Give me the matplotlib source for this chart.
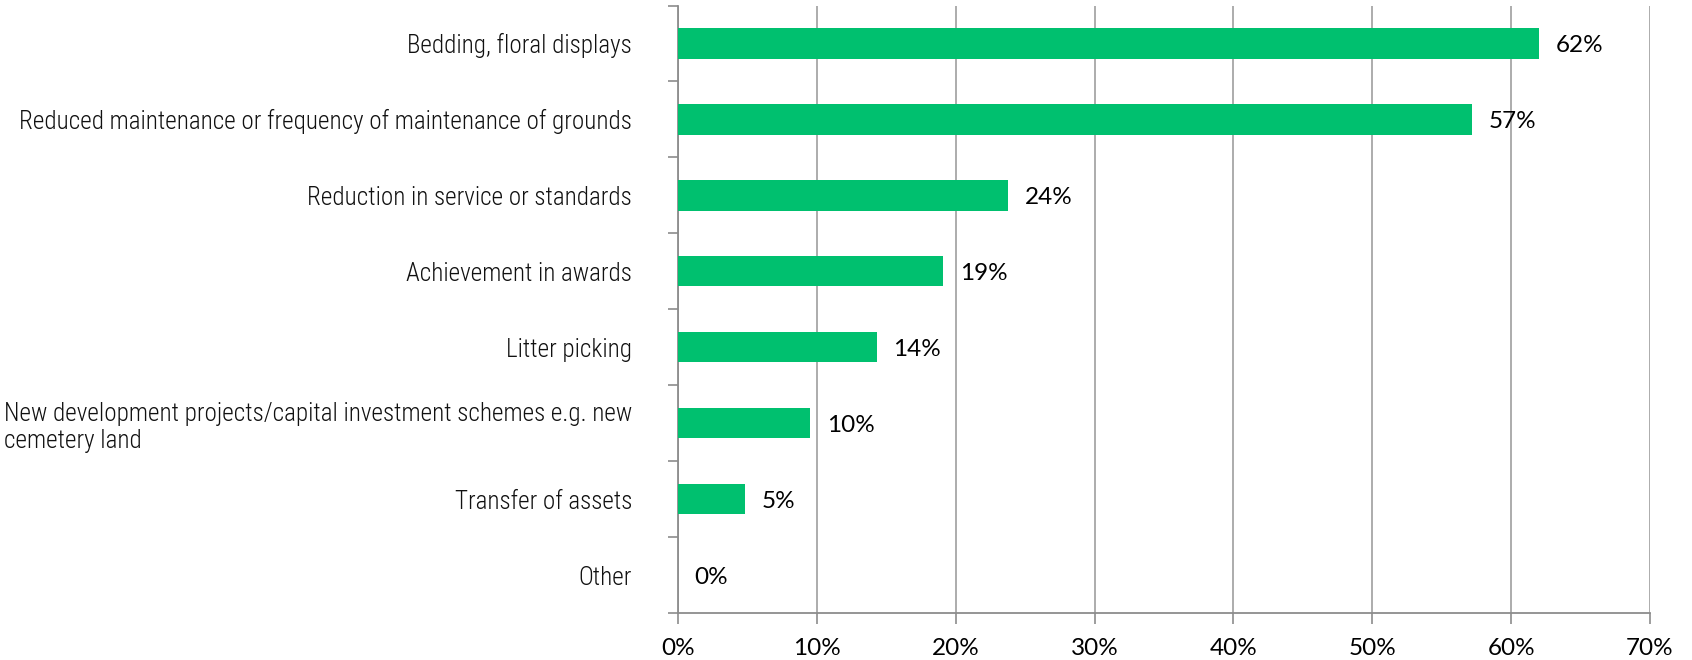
import matplotlib
matplotlib.use("Agg")
import matplotlib.pyplot as plt
from matplotlib import font_manager
from matplotlib.ticker import FixedLocator, PercentFormatter

categories = [
    "Bedding, floral displays",
    "Reduced maintenance or frequency of maintenance of grounds",
    "Reduction in service or standards",
    "Achievement in awards",
    "Litter picking",
    "New development projects/capital investment schemes e.g. new\ncemetery land",
    "Transfer of assets",
    "Other",
]
values = [62.0, 57.2, 23.8, 19.1, 14.3, 9.5, 4.8, 0.0]
x_ticks = [0, 10, 20, 30, 40, 50, 60, 70]

installed = {f.name for f in font_manager.fontManager.ttflist}
label_font = next(f for f in ["Roboto Condensed", "Open Sans Condensed",
                              "Liberation Sans Narrow", "Roboto", "Open Sans"]
                  if f in installed)
num_font = "Lato" if "Lato" in installed else "DejaVu Sans"

bar_color = "#00c06f"
axis_gray = "#8c8c8c"
grid_gray = "#a6a6a6"

fig = plt.figure(figsize=(16.92, 6.6), dpi=100)
ax = fig.add_axes([678 / 1692, 1 - 613 / 660, 972 / 1692, 607.5 / 660])

# size the category font so the longest one-line label spans ~612 px
renderer = fig.canvas.get_renderer()
probe = fig.text(0, 0, categories[1], family=label_font, weight="light",
                 fontsize=16)
label_size = 16 * 612 / probe.get_window_extent(renderer).width
probe.remove()

ypos = list(range(len(categories)))
ax.barh(ypos, values, height=0.4, color=bar_color, zorder=3)

for y, v in zip(ypos, values):
    ax.text(v + 1.2, y + 0.03, f"{v:.0f}%", va="center", ha="left",
            fontsize=17.5, family=num_font, color="black", zorder=4)

ax.set_xlim(0, 70)
ax.set_ylim(len(categories) - 0.5, -0.5)
ax.xaxis.set_major_locator(FixedLocator(x_ticks))
ax.xaxis.set_major_formatter(PercentFormatter(decimals=0))
ax.grid(axis="x", color=grid_gray, linewidth=1.3, zorder=0)
ax.set_axisbelow(True)

# category labels as major ticks without marks, boundary marks as minor ticks
ax.set_yticks(ypos)
ax.set_yticklabels(categories, family=label_font, weight="light",
                   fontsize=label_size, color="#111111")
for lbl in ax.get_yticklabels():
    lbl.set_multialignment("left")
ax.tick_params(axis="y", which="major", length=0, pad=33)
ax.set_yticks([y - 0.5 for y in range(len(categories) + 1)], minor=True)
ax.tick_params(axis="y", which="minor", length=7, width=1.2, color=axis_gray)

ax.tick_params(axis="x", which="major", length=8, width=1.2, color=axis_gray,
               labelsize=17.5, pad=10)
for lbl in ax.get_xticklabels():
    lbl.set_family(num_font)

for side in ("top", "right"):
    ax.spines[side].set_visible(False)
for side in ("left", "bottom"):
    ax.spines[side].set_color(axis_gray)
    ax.spines[side].set_linewidth(1.3)

fig.savefig("out.png", dpi=100, facecolor="white")
